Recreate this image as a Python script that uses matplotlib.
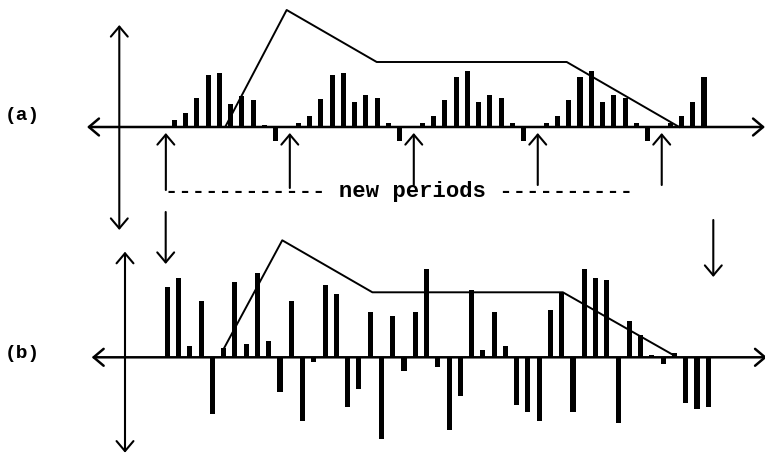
import numpy as np
import matplotlib.pyplot as plt
from matplotlib.patches import FancyArrowPatch

# (a) original periodic signal, one value per sample (pixels above axis)
top_vals = [7, 14, 29, 52, 54, 23, 31, 27, 2, -14, 0,
            4, 11, 28, 52, 54, 25, 32, 29, 4, -14, 0,
            4, 11, 27, 50, 56, 25, 32, 29, 4, -14, 0,
            4, 11, 27, 50, 56, 25, 32, 29, 4, -14, 0,
            4, 11, 25, 50]
# (b) signal after processing
bot_vals = [70, 79, 11, 56, -57, 9, 75, 13, 84, 16,
            -35, 56, -64, -5, 72, 63, -50, -32, 45, -82,
            41, -14, 45, 88, -10, -73, -39, 67, 7, 45,
            11, -48, -55, -64, 47, 64, -55, 88, 79, 77,
            -66, 36, 22, 2, -7, 4, -46, -52, -50]
# envelopes (sample index, height)
top_env_x = [4.56, 9.97, 17.96, 34.82, 44.8]
top_env_y = [1, 117, 65, 65, 0]
bot_env_x = [5.03, 10.2, 18.2, 35.1, 45.1]
bot_env_y = [9, 117, 65, 65, 1]
# sample indices where new periods begin
period_starts = [-0.75, 10.25, 21.25, 32.25, 43.25]

W, H = 765, 455
dx = 11.27
fig = plt.figure(figsize=(W / 100, H / 100), dpi=100)

def data_axes(x0, y0):
    # full-figure axes: index 0 at pixel x0, zero line at pixel y0
    a = fig.add_axes([0, 0, 1, 1])
    a.set_xlim(-x0 / dx, (W - x0) / dx)
    a.set_ylim(y0 - H, y0)
    a.axis('off')
    a.patch.set_alpha(0)
    return a

top = data_axes(174.3, 127)
bot = data_axes(167.3, 357.3)

top.bar(np.arange(len(top_vals)), top_vals, width=0.45, color='black')
top.plot(top_env_x, top_env_y, color='black', lw=1.4)
bot.bar(np.arange(len(bot_vals)), bot_vals, width=0.45, color='black')
bot.plot(bot_env_x, bot_env_y, color='black', lw=1.4)

# pixel overlay for axes arrows, markers and labels
ax = fig.add_axes([0, 0, 1, 1])
ax.set_xlim(0, W)
ax.set_ylim(H, 0)
ax.axis('off')
ax.patch.set_alpha(0)

def arrow(p0, p1, style='->', lw=1.5):
    ax.add_patch(FancyArrowPatch(p0, p1, arrowstyle=style + ',head_length=0.45,head_width=0.38',
                                 mutation_scale=16, lw=lw, color='black',
                                 shrinkA=0, shrinkB=0))

arrow((87, 127), (765, 127), '<->', 1.8)
arrow((119.3, 25), (119.3, 230), '<->', 1.5)
arrow((91.7, 357.3), (767, 357.3), '<->', 1.8)
arrow((125, 251.7), (125, 452.7), '<->', 1.5)

ends = [190, 188, 185, 185, 185]
for s, e in zip(period_starts, ends):
    xp = 174.3 + s * dx
    arrow((xp, e), (xp, 133))

arrow((165.7, 212), (165.7, 264))
arrow((713.3, 220), (713.3, 277))

font = dict(family='Liberation Mono', weight='bold', color='black')
ax.text(165, 191, '------------ new periods ----------', fontsize=16,
        ha='left', va='center', **font)
ax.text(5, 115, '(a)', fontsize=14, ha='left', va='center', **font)
ax.text(5, 354, '(b)', fontsize=14, ha='left', va='center', **font)

fig.savefig('out.png', dpi=100)
